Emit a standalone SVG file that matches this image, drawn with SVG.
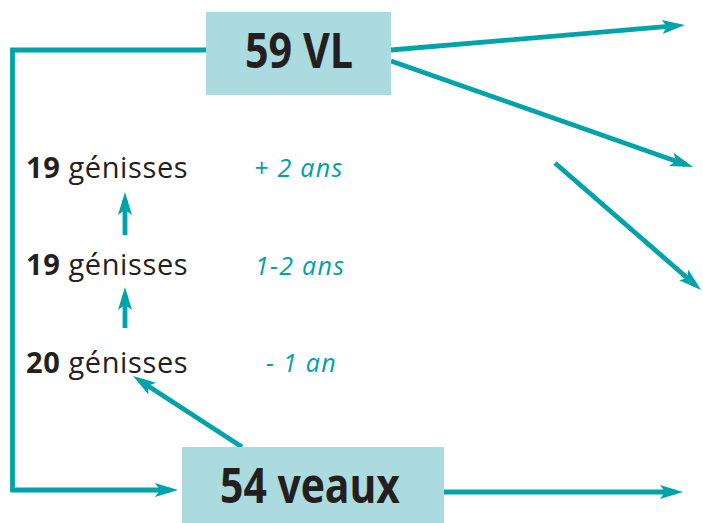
<svg xmlns="http://www.w3.org/2000/svg" width="703" height="523" viewBox="0 0 703 523">
<defs>
<style>
.box{fill:#abdadf;}
.big{font-family:"Open Sans","DejaVu Sans",sans-serif;font-weight:bold;font-size:48px;fill:#231f20;}
.lbl{font-family:"Open Sans","DejaVu Sans",sans-serif;font-size:29px;fill:#231f20;letter-spacing:0.6px;}
.lbl .n{font-weight:bold;}
.age{font-family:"Open Sans","DejaVu Sans",sans-serif;font-style:italic;font-size:25px;fill:#00a0a8;letter-spacing:1.3px;}
.c{fill:none;stroke:#00a3a9;stroke-width:4.8;marker-end:url(#ah);}
</style>
<marker id="ah" markerUnits="userSpaceOnUse" viewBox="-16 -8 26 16" markerWidth="26" markerHeight="16" refX="0" refY="0" orient="auto">
<path d="M8,0 L-15,-7 L-10,0 L-15,7 Z" fill="#00a3a9"/>
</marker>
</defs>
<g id="connectors">
<polyline class="c" points="206,50 12.5,50 12.5,490 170,490"/>
<line class="c" x1="391" y1="50" x2="677" y2="25.7"/>
<line class="c" x1="391" y1="61" x2="685.5" y2="164.4"/>
<line class="c" x1="555" y1="163" x2="695" y2="284.7"/>
<line class="c" x1="242" y1="447" x2="139.7" y2="380.4"/>
<line class="c" x1="125" y1="235" x2="125" y2="200"/>
<line class="c" x1="125" y1="328" x2="125" y2="295"/>
<line class="c" x1="444" y1="492" x2="675" y2="492"/>
</g>
<g id="vl">
<rect class="box" x="206" y="12" width="185" height="83"/>
<text class="big" x="245" y="68" textLength="108" lengthAdjust="spacingAndGlyphs">59 VL</text>
</g>
<g id="veaux">
<rect class="box" x="182" y="447" width="262" height="80"/>
<text class="big" x="220" y="503" textLength="180" lengthAdjust="spacingAndGlyphs">54 veaux</text>
</g>
<g id="g2ans">
<text class="lbl" x="26" y="178"><tspan class="n">19</tspan> génisses</text>
<text class="age" x="254" y="177">+ 2 ans</text>
</g>
<g id="g12ans">
<text class="lbl" x="26" y="275"><tspan class="n">19</tspan> génisses</text>
<text class="age" x="255" y="275">1-2 ans</text>
</g>
<g id="g1an">
<text class="lbl" x="26" y="373"><tspan class="n">20</tspan> génisses</text>
<text class="age" x="266" y="372">- 1 an</text>
</g>
</svg>
